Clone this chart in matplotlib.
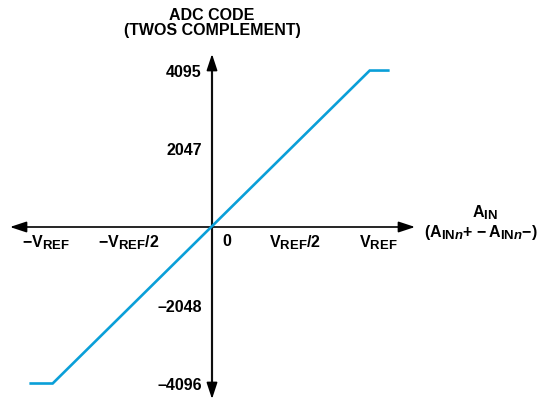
import numpy as np
import matplotlib.pyplot as plt
import matplotlib._mathtext as mathtext_impl

plt.rcParams['font.family'] = ['Liberation Sans', 'DejaVu Sans']
plt.rcParams['font.weight'] = 'bold'
plt.rcParams['mathtext.fontset'] = 'custom'
plt.rcParams['mathtext.rm'] = 'Liberation Sans:bold'
plt.rcParams['mathtext.bf'] = 'Liberation Sans:bold'
plt.rcParams['mathtext.it'] = 'Liberation Sans:bold:italic'
plt.rcParams['mathtext.default'] = 'rm'
# larger subscripts, as on datasheet figures
mathtext_impl.SHRINK_FACTOR = 0.82

# transfer function: input in units of VREF, output code (twos complement)
vin = [-1.10, -0.96, 0.95, 1.07]
code = [-4096, -4096, 4095, 4095]

x_ticks = [-1.0, -0.5, 0.5, 1.0]
x_labels = [r'$-\mathrm{V_{REF}}$', r'$-\mathrm{V_{REF}/2}$',
            r'$\mathrm{V_{REF}/2}$', r'$\mathrm{V_{REF}}$']
y_ticks = [4095, 2047, -2048, -4096]
y_labels = ['4095', '2047', '\u20132048', '\u20134096']

blue = '#0A9FD8'
fs = 11.5
px_per_fs = 156.5 / 4096  # vertical pixels per code

fig = plt.figure(figsize=(5.37, 4.02), dpi=100)
ax = fig.add_axes([0, 0, 1, 1])
ax.set_xlim(-212 / 166, 325 / 166)
ax.set_ylim(-174 / px_per_fs, 228 / px_per_fs)
ax.axis('off')

# axes with arrow heads
arrow = dict(arrowstyle='-|>,head_length=1.0,head_width=0.33',
             mutation_scale=10, color='black', lw=1.2, shrinkA=0, shrinkB=0)
ax.annotate('', xy=(-1.217, 0), xytext=(0, 0), arrowprops=arrow)
ax.annotate('', xy=(1.223, 0), xytext=(0, 0), arrowprops=arrow)
y_top, y_bot = 173 / px_per_fs, -172 / px_per_fs
ax.annotate('', xy=(0, y_top), xytext=(0, 0), arrowprops=arrow)
ax.annotate('', xy=(0, y_bot), xytext=(0, 0), arrowprops=arrow)
head = 14 / px_per_fs
ax.plot([0, 0], [y_bot + head, y_top - head], color='#555555', lw=1.6,
        solid_capstyle='butt', zorder=2)

ax.plot(vin, code, color=blue, lw=1.9, solid_capstyle='butt',
        solid_joinstyle='miter', zorder=3)

# tick labels
for xv, lab in zip(x_ticks, x_labels):
    ax.annotate(lab, (xv, 0), xytext=(0, -15), textcoords='offset pixels',
                ha='center', va='center', fontsize=fs)
ax.annotate('0', (0, 0), xytext=(10, -14), textcoords='offset pixels',
            ha='left', va='center', fontsize=fs)
for yv, lab in zip(y_ticks, y_labels):
    ax.annotate(lab, (0, yv), xytext=(-10, -1), textcoords='offset pixels',
                ha='right', va='center', fontsize=fs)

# axis titles
ax.annotate('ADC CODE', (0, y_top), xytext=(0, 40),
            textcoords='offset pixels', ha='center', va='center', fontsize=fs)
ax.annotate('(TWOS COMPLEMENT)', (0, y_top), xytext=(0, 25),
            textcoords='offset pixels', ha='center', va='center', fontsize=fs)
ax.annotate(r'$\mathrm{A_{IN}}$', (1.223, 0), xytext=(70, 15),
            textcoords='offset pixels', ha='center', va='center', fontsize=fs)
ax.annotate(r'$\mathrm{(A_{IN\mathit{n}}{+}\ {-}\,A_{IN\mathit{n}}{-})}$',
            (1.223, 0), xytext=(9, -5), textcoords='offset pixels',
            ha='left', va='center', fontsize=fs)

fig.savefig('out.png', dpi=100)
